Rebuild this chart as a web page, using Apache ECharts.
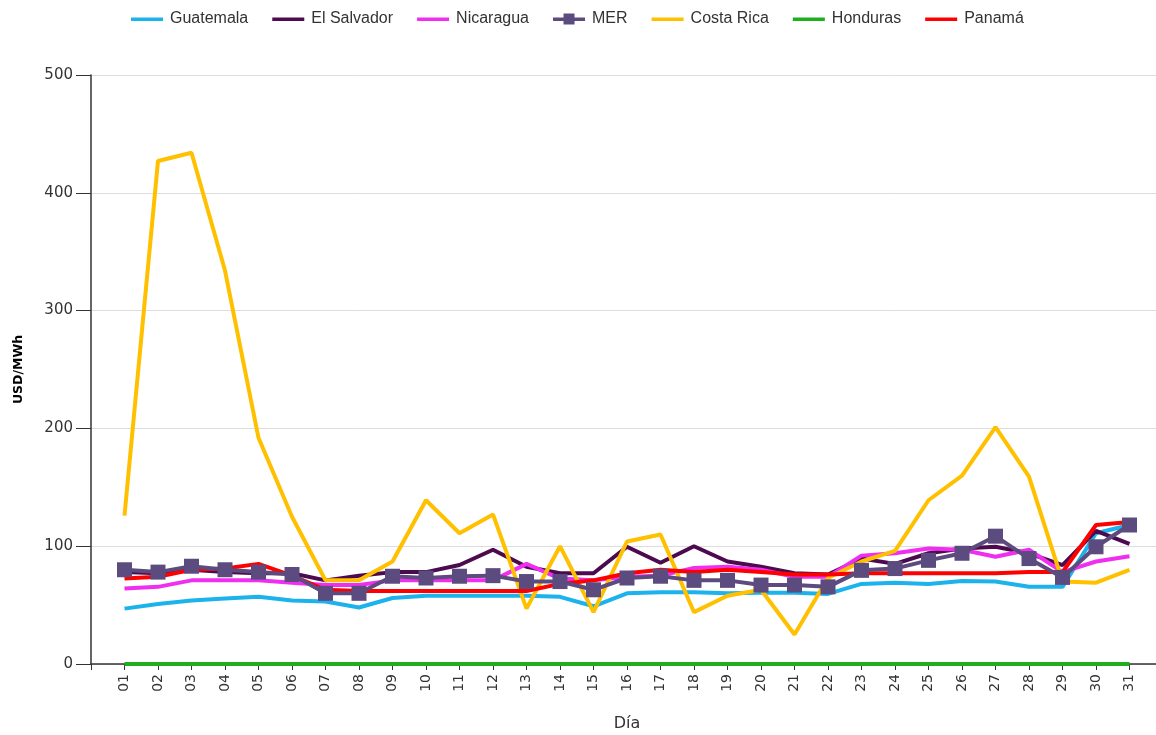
<!DOCTYPE html>
<html>
<head>
<meta charset="utf-8">
<script src="https://cdn.jsdelivr.net/npm/echarts@6/dist/echarts.min.js"></script>
<style>
  html, body { margin: 0; padding: 0; background: #fff; }
  #chart { width: 1156px; height: 735px; }
</style>
</head>
<body>
<div id="chart"></div>
<script>
// dias del mes
var dias = ['01','02','03','04','05','06','07','08','09','10','11','12','13','14','15','16',
  '17','18','19','20','21','22','23','24','25','26','27','28','29','30','31'];

// precios USD/MWh por pais
var guatemala = [47,51,54,55.5,57,54,53,48,56,58,58,58,58,57,49,60,61,61,60,60.5,60.5,59.5,68,69,68,70.5,70,65.5,65.5,111,118];
var elSalvador = [78,77,80,78,77,77,71,75,78,78,84,97,82.5,77,77,99.5,86,100,87,82.5,77,76,89.5,85,94,98,99.5,94,84,113,102];
var nicaragua = [64,65.5,71,71,71,69,67,67,71,71,71,71,85,72.5,71,74,75,81.5,82.5,80,74,74,92,94,98,97,91,97,78,87,91.5];
var mer = [80,78,83,80,78,76,60,60,74.5,73,74.5,75,70,70,63,73,74.5,71,71,67,67,65.5,79.5,81,88,94,108.5,89.5,73.5,99.5,118];
var costaRica = [126,427,434,334,192,125,71,71,87,139,111,127,47,100,44,104,110,44,58,63,25,73,87,96,139,160,201,159,70,69,80];
var honduras = [0,0,0,0,0,0,0,0,0,0,0,0,0,0,0,0,0,0,0,0,0,0,0,0,0,0,0,0,0,0,0];
var panama = [72.5,74,80,81,85,75,63,62,62,62,62,62,62,68,71,77,80,78,80,78,76,76,77,77,77,77,77,78,78,118,120.5];

var yTicks = [0, 100, 200, 300, 400, 500];

(function(){
  var myChart = echarts.init(document.getElementById('chart'));

  // iconos de leyenda (caja 32x14)
  var iconLinea = 'path://M0,0h0.01v0.01h-0.01z M0,5.5h32v3.5h-32z M31.99,14h0.01v-0.01h-0.01z';
  var iconMer = 'path://M0,0h0.01v0.01h-0.01z M0,5.5h32v3.5h-32z M10.5,1.5h11v11h-11z M31.99,14h0.01v-0.01h-0.01z';

  function puntos(arr){
    return arr.map(function(v, i){ return [i + 1, v]; });
  }

  function serie(nombre, color, arr, extra){
    var s = {
      name: nombre,
      type: 'line',
      data: puntos(arr),
      symbol: 'none',
      color: color,
      lineStyle: { width: 4, color: color },
      z: 2
    };
    for (var k in extra) s[k] = extra[k];
    return s;
  }

  var option = {
    animation: false,
    textStyle: { fontFamily: 'DejaVu Sans' },
    legend: {
      top: 6,
      left: 126,
      itemWidth: 32,
      itemHeight: 14,
      itemGap: 24,
      textStyle: { fontFamily: 'Liberation Sans', fontSize: 16, color: '#333', padding: [0, 0, 0, 2] },
      data: [
        { name: 'Guatemala', icon: iconLinea },
        { name: 'El Salvador', icon: iconLinea },
        { name: 'Nicaragua', icon: iconLinea },
        { name: 'MER', icon: iconMer },
        { name: 'Costa Rica', icon: iconLinea },
        { name: 'Honduras', icon: iconLinea },
        { name: 'Panamá', icon: iconLinea }
      ]
    },
    grid: { left: 91, right: -7, top: 75, bottom: 71, containLabel: false, outerBoundsMode: 'none' },
    xAxis: {
      type: 'value',
      min: 0,
      max: 32,
      interval: 1,
      name: 'Día',
      nameLocation: 'middle',
      nameGap: 52,
      nameTextStyle: { fontFamily: 'DejaVu Sans', fontSize: 16, color: '#333' },
      axisLine: { lineStyle: { color: '#333', width: 1.5 } },
      axisTick: { length: 6, lineStyle: { color: '#333' } },
      splitLine: { show: false },
      axisLabel: {
        rotate: 90,
        fontSize: 14,
        color: '#333',
        margin: 10,
        formatter: function(v){
          if (v >= 1 && v <= dias.length && v === Math.round(v)) return dias[v - 1];
          return '';
        }
      }
    },
    yAxis: {
      type: 'value',
      min: yTicks[0],
      max: yTicks[yTicks.length - 1],
      interval: 100,
      name: 'USD/MWh',
      nameLocation: 'middle',
      nameGap: 66,
      nameTextStyle: { fontFamily: 'DejaVu Sans', fontSize: 12.5, fontWeight: 'bold', color: '#000' },
      axisLine: { show: true, lineStyle: { color: '#333', width: 1.5 } },
      axisTick: { show: true, length: 15, lineStyle: { color: '#333' } },
      axisLabel: { fontSize: 15, color: '#333', margin: 18 },
      splitLine: { lineStyle: { color: '#ddd' } }
    },
    series: [
      serie('Guatemala', '#1cb3ec', guatemala),
      serie('El Salvador', '#4d0b4f', elSalvador),
      serie('Nicaragua', '#f02ef0', nicaragua),
      serie('MER', '#5c4b7e', mer, { symbol: 'rect', symbolSize: 15, z: 4 }),
      serie('Costa Rica', '#ffc000', costaRica),
      serie('Honduras', '#1fae1f', honduras),
      serie('Panamá', '#ff0000', panama, { z: 3 })
    ]
  };

  myChart.setOption(option);
  window.addEventListener('resize', function(){
    myChart.resize();
  });
})();
</script>
</body>
</html>
